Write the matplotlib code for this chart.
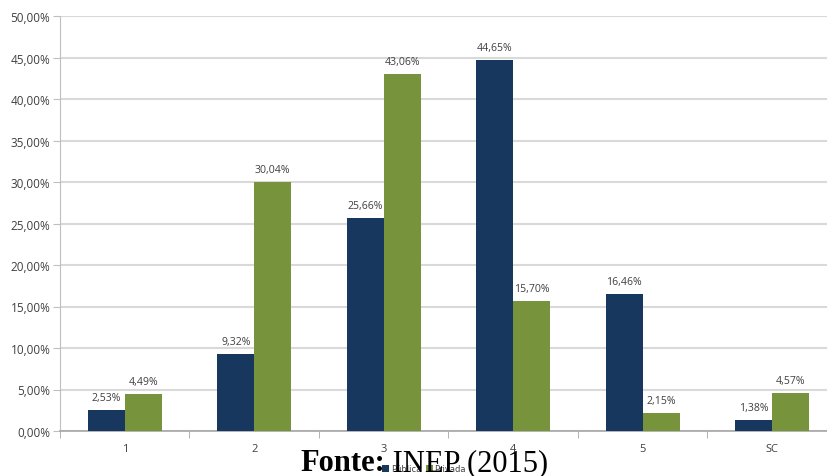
import matplotlib
matplotlib.use("Agg")
import matplotlib.pyplot as plt
import numpy as np
from matplotlib.ticker import FuncFormatter, MultipleLocator

categories = ["1", "2", "3", "4", "5", "SC"]
publica = [2.53, 9.32, 25.66, 44.65, 16.46, 1.38]
privada = [4.49, 30.04, 43.06, 15.70, 2.15, 4.57]
series_names = ["Pública", "Privada"]
source_bold = "Fonte:"
source_rest = " INEP (2015)"

navy = "#17375E"
green = "#77933C"
label_color = "#404040"

fig = plt.figure(figsize=(8.28, 4.77), dpi=100)
ax = fig.add_axes([60/828, 45/477, 777/828, 415/477])

x = np.arange(len(categories))
w = 0.286
b1 = ax.bar(x - w/2, publica, w, color=navy, label=series_names[0], zorder=3)
b2 = ax.bar(x + w/2, privada, w, color=green, label=series_names[1], zorder=3)

def fmt(v):
    return f"{v:.2f}%".replace(".", ",")

for bars, vals in ((b1, publica), (b2, privada)):
    for r, v in zip(bars, vals):
        ax.annotate(fmt(v), (r.get_x() + r.get_width()/2, v), xytext=(0, 5),
                    textcoords="offset points", ha="center", va="bottom",
                    fontsize=7.6, color=label_color, family="Open Sans")

ax.set_xlim(-0.5, len(categories) - 0.5)
ax.set_ylim(0, 50)
ax.yaxis.set_major_locator(MultipleLocator(5))
ax.yaxis.set_major_formatter(FuncFormatter(lambda v, p: f"{v:.2f}%".replace(".", ",")))
ax.grid(axis="y", color="#D9D9D9", linewidth=1.5, zorder=0)
ax.set_axisbelow(True)

ax.set_xticks(x)
ax.set_xticklabels(categories)
ax.set_xticks(np.arange(len(categories) + 1) - 0.5, minor=True)
ax.tick_params(axis="x", which="major", length=0, pad=9, labelsize=8, labelcolor=label_color)
ax.tick_params(axis="x", which="minor", length=5, color="#A6A6A6", direction="out")
ax.tick_params(axis="y", length=5, color="#BFBFBF", labelsize=8.5, labelcolor=label_color, pad=2)
for lab in ax.get_xticklabels() + ax.get_yticklabels():
    lab.set_family("Open Sans")

for s in ("top", "right"):
    ax.spines[s].set_visible(False)
ax.spines["left"].set_color("#BFBFBF")
ax.spines["bottom"].set_color("#A6A6A6")
ax.spines["bottom"].set_linewidth(1.2)

leg = fig.legend(handles=[b1, b2], loc="lower left", bbox_to_anchor=(375/828, -0.010),
                 ncol=2, frameon=False, fontsize=6, handlelength=0.8, handleheight=0.8,
                 handletextpad=0.2, columnspacing=0.6)
for t in leg.get_texts():
    t.set_color(label_color)

t1 = fig.text(300/828, 6/477, source_bold, fontsize=22, fontweight="bold",
              family="Liberation Serif", color="black", ha="left", va="baseline", zorder=10)
fig.canvas.draw()
bb = t1.get_window_extent()
fig.text(bb.x1/828, 6/477, source_rest, fontsize=22, family="Liberation Serif",
         color="black", ha="left", va="baseline", zorder=10)

fig.savefig("out.png", dpi=100)
